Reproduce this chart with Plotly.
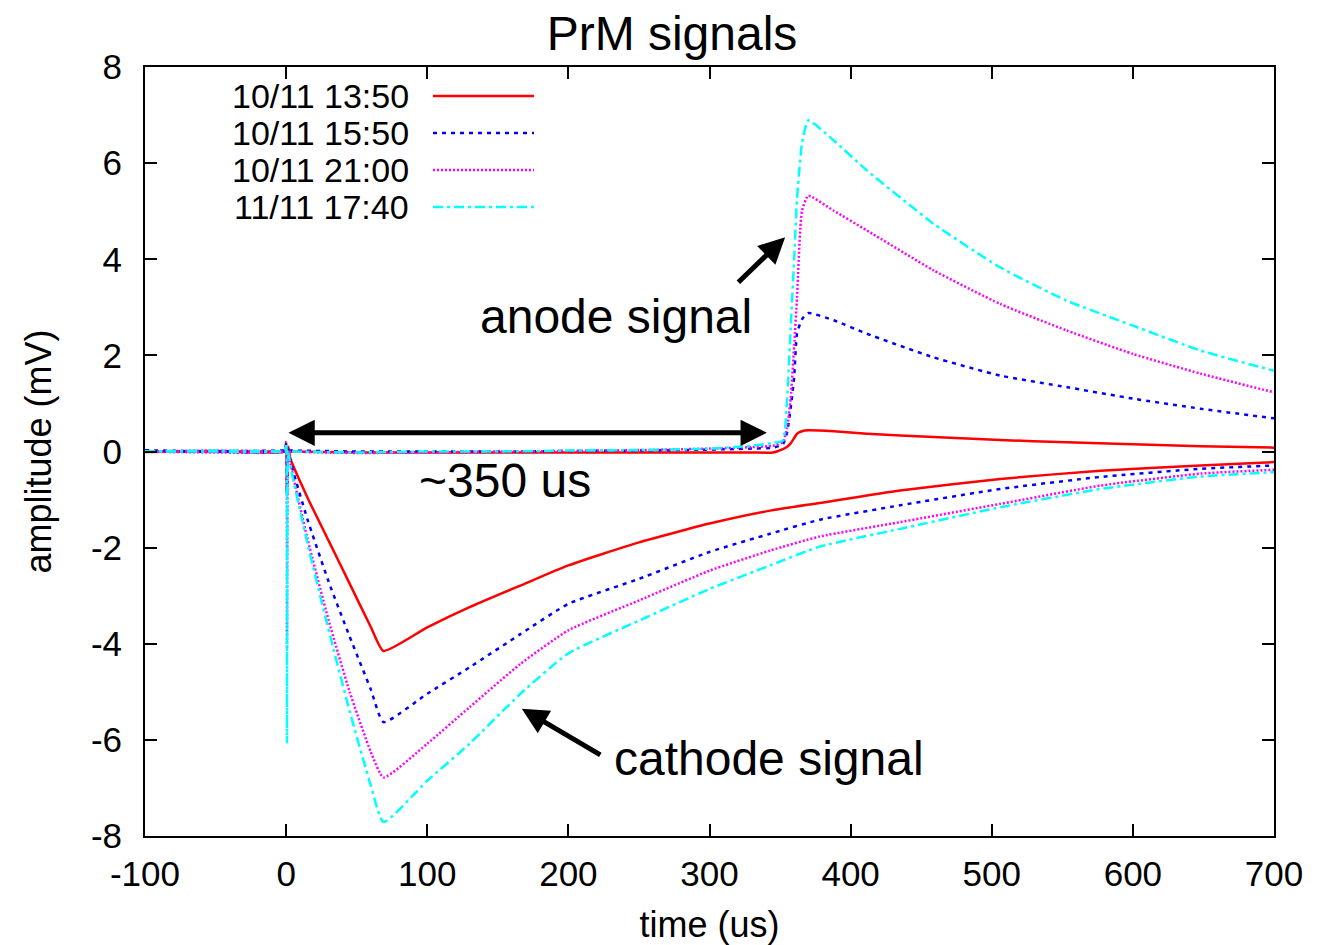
import plotly.graph_objects as go

# ---------------- data ----------------
SERIES = ["10/11 13:50", "10/11 15:50", "10/11 21:00", "11/11 17:40"]
COLORS = ["#FF0000", "#0000FF", "#FF00FF", "#00FFFF"]
DASHES = ["solid", "4px,5px", "2px,2px", "10px,4px,3px,4px"]

# cathode channel (time in us, amplitude in mV)
T_CATH = [-100, -50, -1, 0, 0.6, 1.5, 3, 15, 30, 45, 60, 69, 100, 130, 166,
          200, 250, 300, 343, 378, 435, 506, 577, 648, 700]
CATH_1350 = [0.0, 0.01, 0.0, 0.20, -0.88, 0.10, -0.15, -0.95, -1.85, -2.75, -3.65,
             -4.15, -3.66, -3.24, -2.79, -2.37, -1.89, -1.50, -1.23, -1.07, -0.81,
             -0.57, -0.40, -0.29, -0.22]
CATH_1550 = [0.02, 0.0, 0.01, 0.15, -0.90, 0.05, -0.20, -1.40, -2.70, -3.85, -4.95,
             -5.63, -5.04, -4.49, -3.80, -3.17, -2.65, -2.09, -1.71, -1.42, -1.12,
             -0.78, -0.53, -0.36, -0.29]
CATH_2100 = [0.0, -0.02, 0.0, 0.10, -4.10, 0.0, -0.25, -1.80, -3.50, -5.00, -6.25,
             -6.78, -6.08, -5.32, -4.42, -3.72, -3.10, -2.48, -2.06, -1.77, -1.47,
             -1.09, -0.71, -0.46, -0.38]
CATH_1740 = [0.0, 0.0, 0.02, 0.15, -6.05, 0.0, -0.30, -1.90, -3.70, -5.40, -6.95,
             -7.71, -6.85, -6.08, -5.04, -4.20, -3.52, -2.86, -2.37, -1.98, -1.61,
             -1.16, -0.78, -0.52, -0.43]

# anode channel
T_AN = [-100, -50, 0, 50, 100, 150, 200, 250, 300, 330, 345, 352, 355, 357.5,
        360, 362, 365.5, 370, 388, 411.5, 458.7, 506, 553, 600, 648, 700]
AN_1350 = [-0.01, 0.0, 0.0, -0.02, -0.02, -0.02, -0.02, -0.02, -0.02, -0.02,
           -0.02, 0.05, 0.10, 0.17, 0.28, 0.37, 0.42, 0.44, 0.42, 0.37, 0.30,
           0.24, 0.19, 0.15, 0.11, 0.08]
AN_1550 = [0.02, 0.0, 0.02, 0.0, 0.0, 0.0, 0.01, 0.02, 0.04, 0.06, 0.08, 0.15,
           0.40, 0.90, 1.55, 2.45, 2.75, 2.88, 2.73, 2.45, 1.96, 1.58, 1.34,
           1.10, 0.89, 0.69]
AN_2100 = [0.0, 0.02, 0.0, -0.03, -0.02, 0.0, 0.01, 0.03, 0.06, 0.09, 0.12, 0.20,
           0.50, 1.10, 2.20, 3.20, 5.00, 5.32, 5.01, 4.60, 3.77, 3.07, 2.52,
           2.03, 1.62, 1.23]
AN_1740 = [0.0, 0.02, 0.0, -0.02, 0.0, 0.0, 0.02, 0.03, 0.06, 0.12, 0.18, 0.23,
           1.10, 2.55, 4.00, 5.25, 6.40, 6.89, 6.47, 5.85, 4.74, 3.83, 3.14,
           2.62, 2.10, 1.68]

CATHODES = [CATH_1350, CATH_1550, CATH_2100, CATH_1740]
ANODES = [AN_1350, AN_1550, AN_2100, AN_1740]

X_TICKS = [-100, 0, 100, 200, 300, 400, 500, 600, 700]
Y_TICKS = [-8, -6, -4, -2, 0, 2, 4, 6, 8]

FONT = "Liberation Sans, Arial, Helvetica, sans-serif"

# ---------------- figure ----------------
fig = go.Figure()
for name, col, dash, cath, an in zip(SERIES, COLORS, DASHES, CATHODES, ANODES):
    fig.add_trace(go.Scatter(x=T_CATH, y=cath, mode="lines", name=name,
                             line=dict(color=col, width=2.5, dash=dash,
                                       shape="spline", smoothing=0.5),
                             showlegend=False))
    fig.add_trace(go.Scatter(x=T_AN, y=an, mode="lines", name=name,
                             line=dict(color=col, width=2.5, dash=dash,
                                       shape="spline", smoothing=0.5),
                             showlegend=False))

# plot area in pixels: x 145..1274, y 67..836
L, R, T, B = 145, 1274, 67, 836
W, H = 1337, 945


def px2paper_x(px):
    return (px - L) / (R - L)


def px2paper_y(py):
    return (B - py) / (B - T)


# gnuplot-style key: text right-aligned, sample line on the right
KEY_ROWS = [96, 133, 170, 207]
shapes = []
annotations = []
for name, col, dash, ry in zip(SERIES, COLORS, DASHES, KEY_ROWS):
    annotations.append(dict(xref="paper", yref="paper", x=px2paper_x(411),
                            y=px2paper_y(ry), text=name, showarrow=False,
                            xanchor="right", yanchor="middle",
                            font=dict(size=34, color="black", family=FONT)))
    shapes.append(dict(type="line", xref="paper", yref="paper",
                       x0=px2paper_x(433), x1=px2paper_x(534),
                       y0=px2paper_y(ry), y1=px2paper_y(ry),
                       line=dict(color=col, width=2.5, dash=dash)))

BIG = 48
# text labels
annotations += [
    dict(x=234, y=2.80, text="anode signal", showarrow=False,
         font=dict(size=BIG, color="black", family=FONT)),
    dict(x=342, y=-6.38, text="cathode signal", showarrow=False,
         font=dict(size=BIG, color="black", family=FONT)),
    dict(x=155, y=-0.60, text="~350 us", showarrow=False,
         font=dict(size=BIG, color="black", family=FONT)),
]

# arrows
annotations += [
    dict(x=340.6, y=0.39, ax=0.6, ay=0.39, axref="x", ayref="y", text="",
         showarrow=True, arrowhead=2, arrowsize=1.05, arrowwidth=5,
         arrowside="end+start", startarrowhead=2, startarrowsize=1.05,
         arrowcolor="black", standoff=0, startstandoff=0),
    dict(x=353.6, y=4.46, ax=319.4, ay=3.49, axref="x", ayref="y", text="",
         showarrow=True, arrowhead=2, arrowsize=1.05, arrowwidth=5,
         arrowcolor="black", standoff=0),
    dict(x=167, y=-5.35, ax=223.7, ay=-6.33, axref="x", ayref="y", text="",
         showarrow=True, arrowhead=2, arrowsize=1.05, arrowwidth=5,
         arrowcolor="black", standoff=0),
]

axis_common = dict(showgrid=False, zeroline=False, showline=True, linecolor="black",
                   linewidth=2, mirror="ticks", ticks="inside", ticklen=12,
                   tickwidth=1.5, tickcolor="black", automargin=False,
                   tickfont=dict(size=35, color="black", family=FONT))

fig.update_layout(
    width=W, height=H,
    margin=dict(l=L, r=W - R, t=T, b=H - B, pad=0, autoexpand=False),
    paper_bgcolor="white", plot_bgcolor="white",
    font=dict(family=FONT, color="black"),
    title=dict(text="PrM signals", x=px2paper_x(672), xref="paper", xanchor="center",
               y=1 - 33 / H, yref="container", yanchor="middle",
               font=dict(size=48, color="black", family=FONT)),
    xaxis=dict(range=[-100, 700], tickvals=X_TICKS,
               ticktext=[str(v) for v in X_TICKS], ticklabelstandoff=6,
               title=dict(text="time (us)", standoff=22,
                          font=dict(size=36, color="black", family=FONT)),
               **axis_common),
    yaxis=dict(range=[-8, 8], tickvals=Y_TICKS,
               ticktext=[str(v) for v in Y_TICKS], ticklabelstandoff=14,
               title=dict(text="amplitude (mV)", standoff=28,
                          font=dict(size=36, color="black", family=FONT)),
               **axis_common),
    shapes=shapes,
    annotations=annotations,
    showlegend=False,
)

fig.write_html("out.html", config={"displayModeBar": False},
               post_script="document.body.style.margin='0';document.body.style.overflow='hidden';")
